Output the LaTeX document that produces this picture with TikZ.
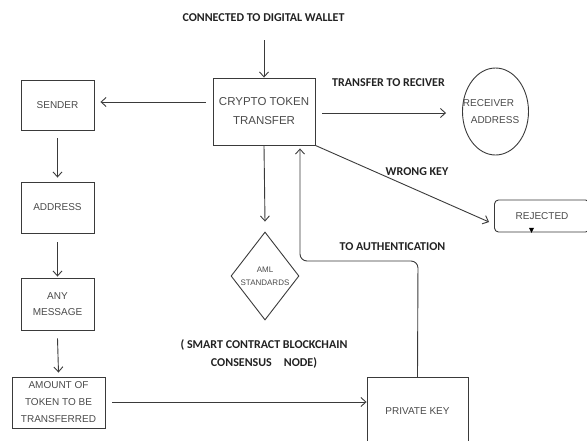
\documentclass[tikz,border=0pt]{standalone}
\usepackage{fontspec}
\setmainfont{Liberation Sans}
\newfontfamily\labelfont{Carlito}
\usetikzlibrary{arrows.meta,shapes.geometric,calc}
\definecolor{ink}{HTML}{3A3A3A}
\definecolor{boxtext}{HTML}{4A4A4A}
\definecolor{tagtext}{HTML}{222222}
\tikzset{
  box/.style={draw=ink, line width=0.9pt, rectangle, inner sep=0pt, align=center,
              text=boxtext, font=\fontsize{10}{16}\selectfont},
  plain/.style={inner sep=0pt, align=center, text=boxtext},
  tag/.style={font=\labelfont\bfseries\fontsize{12}{18}\selectfont, text=tagtext, align=center, inner sep=0pt},
  flow/.style={draw=ink, line width=0.9pt, -{Straight Barb[length=5pt,width=9pt]}},
}
\begin{document}
\begin{tikzpicture}[x=1pt,y=-1pt]
\useasboundingbox (0,0) rectangle (587,440);

% central transfer box
\node[box, minimum width=102, minimum height=67, font=\fontsize{11.5}{19}\selectfont] (crypto) at (264,111.5) {CRYPTO TOKEN\\TRANSFER};
\node[tag] (wallet) at (263.5,18) {CONNECTED TO DIGITAL WALLET};
\coordinate (walletend) at (264,40);

% sender column
\node[box, minimum width=73, minimum height=50] (sender) at (57.5,105) {SENDER};
\node[box, minimum width=73, minimum height=51] (address) at (57.5,207.5) {ADDRESS};
\node[box, minimum width=73, minimum height=52, font=\fontsize{10}{15.5}\selectfont] (message) at (57.5,304) {ANY\\MESSAGE};
\node[box, minimum width=93, minimum height=51, font=\fontsize{10}{17}\selectfont] (amount) at (58.5,402.5) {AMOUNT OF\\TOKEN TO BE\\TRANSFERRED};

% receiver ellipse and its caption
\node[draw=ink, line width=0.9pt, ellipse, minimum width=66, minimum height=87, inner sep=0pt] (receiver) at (495.5,111.5) {};
\node[plain, font=\fontsize{10}{17}\selectfont] (recvtext) at (488.5,112) {RECEIVER\\\hspace*{13pt}ADDRESS};

% rejection, AML, key
\node[box, rounded corners=4pt, minimum width=95, minimum height=32] (rejected) at (542,216) {REJECTED};
\node[draw=ink, line width=0.9pt, diamond, minimum width=68, minimum height=88, inner sep=0pt] (aml) at (265,276) {};
\node[plain, font=\fontsize{8}{13}\selectfont] (amltext) at (265,276) {AML\\STANDARDS};
\node[box, minimum width=101, minimum height=68] (private) at (417.5,411) {PRIVATE KEY};

% labels
\node[tag] (tlabel) at (388.5,83) {TRANSFER TO RECIVER};
\node[tag] (wlabel) at (417,172) {WRONG KEY};
\node[tag] (alabel) at (392.5,247) {TO AUTHENTICATION};
\node[tag] (smart) at (264,354)
  {( SMART CONTRACT BLOCKCHAIN\\CONSENSUS\hspace{1em}NODE)};

% connectors
\draw[flow] (walletend) -- (crypto.north);
\draw[flow] ([xshift=-7pt]crypto.west |- 0,102) -- ([xshift=6pt]sender.east |- 0,102);
\draw[flow] ([xshift=7pt]crypto.east |- 0,113) -- ([xshift=-16pt]receiver.west |- 0,113);
\draw[flow] (crypto.south east) -- ([xshift=-5pt,yshift=-6pt]rejected.west);
\draw[flow] (crypto.south) -- ([yshift=10pt]aml.north);
\draw[flow] ([yshift=-8pt]sender.south) -- ([yshift=4pt]address.north);
\draw[flow] ([yshift=-9pt]address.south) -- ([yshift=1pt]message.north);
\draw[flow] ([yshift=-8pt]message.south) -- ([yshift=4pt]amount.north);
\draw[flow] ([xshift=7pt]amount.east |- 0,402) -- (private.west |- 0,402);
\draw[flow, rounded corners=7pt] (private.north |- 0,377) -- (418,261) -- (300,261) -- ([xshift=36pt,yshift=-3pt]crypto.south);

% marker on the rejection box
\fill[black] ($(rejected.south)+(-13,-4.5)$) -- ++(5,0) -- ++(-2.5,5) -- cycle;
\end{tikzpicture}
\end{document}
